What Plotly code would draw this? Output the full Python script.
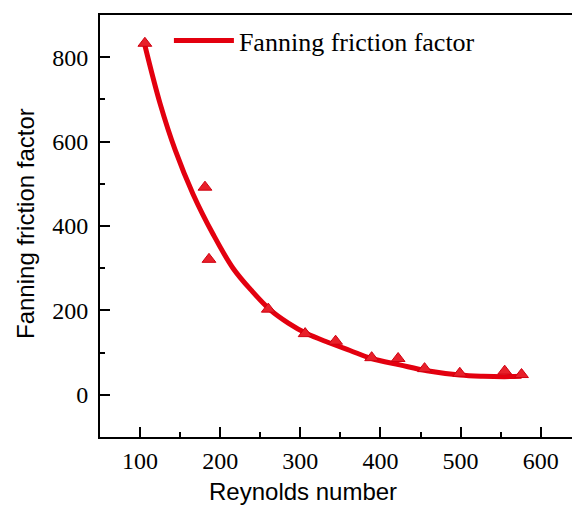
import plotly.graph_objects as go

# Measured data (triangles)
re_points = [106, 181, 186, 260, 306, 344, 389, 422, 455, 499, 555, 576]
f_points = [833, 492, 321, 203, 145, 127, 88, 86, 62, 51, 56, 48]

# Fitted curve
curve_re = [106, 125, 144, 166, 191, 216, 240, 262, 285, 308, 335, 362, 389, 424, 458, 499, 528, 555, 576]
curve_f = [828, 690, 579, 476, 381, 300, 245, 202, 170, 145, 124, 105, 86, 71, 57, 47, 44, 43, 44]

x_ticks = [100, 200, 300, 400, 500, 600]
y_ticks = [0, 200, 400, 600, 800]

red = "#e3000f"

fig = go.Figure()
fig.add_trace(go.Scatter(
    x=curve_re, y=curve_f, mode="lines", name="Fanning friction factor",
    line=dict(color=red, width=5, shape="spline", smoothing=1.0),
    showlegend=True,
))
fig.add_trace(go.Scatter(
    x=re_points, y=f_points, mode="markers", showlegend=False,
    marker=dict(symbol="triangle-up", size=12, color="#e8202a",
                line=dict(color="#d00010", width=1)),
))

axis_font = dict(family="Liberation Serif", size=24, color="black")
title_font = dict(family="Liberation Sans", size=24, color="black")
fig.update_layout(
    width=572, height=507,
    margin=dict(l=100, r=0, t=15, b=70),
    paper_bgcolor="white", plot_bgcolor="white",
    legend=dict(x=0.146, y=0.995, xanchor="left", yanchor="top",
                bgcolor="rgba(0,0,0,0)", itemwidth=60,
                font=dict(family="Liberation Serif", size=26, color="black")),
    xaxis=dict(
        range=[50, 639], tickvals=x_ticks, ticks="inside", ticklen=10, tickwidth=2,
        tickcolor="black", showline=True, linecolor="black", linewidth=2,
        mirror=True, showgrid=False, zeroline=False, tickfont=axis_font,
        ticklabelstandoff=1,
        minor=dict(dtick=50, ticks="inside", ticklen=5, tickwidth=2, tickcolor="black", showgrid=False),
    ),
    yaxis=dict(
        range=[-100, 900], tickvals=y_ticks, ticks="inside", ticklen=10, tickwidth=2,
        tickcolor="black", showline=True, linecolor="black", linewidth=2,
        mirror=False, showgrid=False, zeroline=False, tickfont=axis_font,
        ticklabelstandoff=5,
        minor=dict(dtick=100, ticks="inside", ticklen=5, tickwidth=2, tickcolor="black", showgrid=False),
    ),
    annotations=[
        dict(text="Reynolds number", xref="paper", yref="paper", x=0.43, y=-0.13,
             xanchor="center", yanchor="middle", showarrow=False, font=title_font),
        dict(text="Fanning friction factor", xref="paper", yref="paper", x=-0.159, y=0.507,
             xanchor="center", yanchor="middle", showarrow=False, textangle=-90,
             font=title_font),
    ],
)

fig.write_html("out.html")
